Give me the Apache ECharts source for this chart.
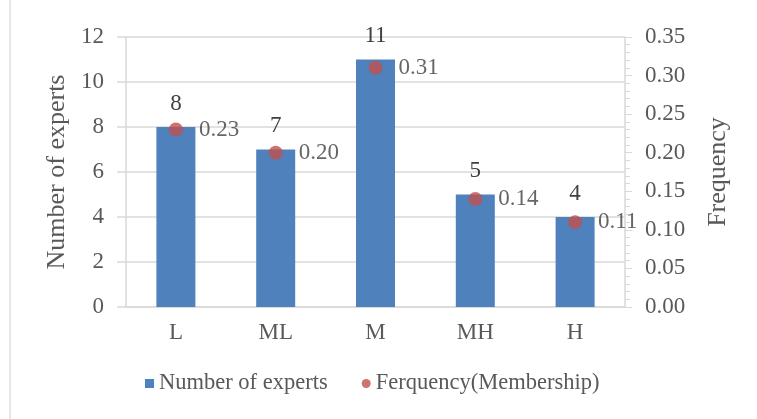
<!DOCTYPE html>
<html>
<head>
<meta charset="utf-8">
<script src="https://cdn.jsdelivr.net/npm/echarts@6/dist/echarts.min.js"></script>
<style>
  html, body { margin: 0; padding: 0; background: #ffffff; }
  #chart { width: 757px; height: 419px; }
</style>
</head>
<body>
<div id="chart"></div>
<script>
// Expert ratings per linguistic level and their membership frequency
const categories = ['L', 'ML', 'M', 'MH', 'H'];
const expertCounts = [8, 7, 11, 5, 4];
const frequencies = [0.23, 0.20, 0.31, 0.14, 0.11];

const FONT = '"Liberation Serif", "Times New Roman", serif';
const TEXT = '#595959';
const LABEL = '#404040';
const LINE = '#D9D9D9';

const chart = echarts.init(document.getElementById('chart'));
chart.setOption({
  animation: false,
  textStyle: { fontFamily: FONT, color: TEXT },
  graphic: [{
    type: 'rect',
    shape: { x: 9, y: 0, width: 2, height: 419 },
    style: { fill: '#E6E6E6' }
  }],
  grid: { left: 126, right: 132, top: 37, bottom: 112 },
  legend: {
    bottom: 19,
    left: 140,
    itemGap: 34,
    itemWidth: 9,
    itemHeight: 9,
    textStyle: { fontFamily: FONT, fontSize: 22.5, color: TEXT },
    data: [
      { name: 'Number of experts', icon: 'rect' },
      { name: 'Ferquency(Membership)', icon: 'circle', itemStyle: { color: '#C0504D' } }
    ]
  },
  xAxis: {
    type: 'category',
    data: categories,
    axisLine: { lineStyle: { color: LINE, width: 1.5 } },
    axisTick: { show: false },
    axisLabel: { fontFamily: FONT, fontSize: 23, color: TEXT, margin: 14 }
  },
  yAxis: [
    {
      type: 'value',
      min: 0, max: 12, interval: 2,
      name: 'Number of experts',
      nameLocation: 'middle',
      nameGap: 51,
      nameTextStyle: { fontFamily: FONT, fontSize: 26, color: TEXT },
      axisLine: { show: true, lineStyle: { color: LINE, width: 1.5 } },
      axisTick: { show: true, length: 9, lineStyle: { color: LINE, width: 1.5 } },
      splitLine: { lineStyle: { color: LINE, width: 1.5 } },
      axisLabel: { fontFamily: FONT, fontSize: 23, color: TEXT, margin: 22 }
    },
    {
      type: 'value',
      min: 0, max: 0.35, interval: 0.05,
      name: 'Frequency',
      nameLocation: 'middle',
      nameGap: 80,
      nameRotate: 90,
      nameTextStyle: { fontFamily: FONT, fontSize: 26, color: TEXT },
      axisLine: { show: true, lineStyle: { color: LINE, width: 1.5 } },
      axisTick: { show: true, length: 7, lineStyle: { color: LINE } },
      minorTick: { show: true, splitNumber: 5, length: 5, lineStyle: { color: LINE } },
      splitLine: { show: false },
      axisLabel: {
        fontFamily: FONT, fontSize: 23, color: TEXT, margin: 20,
        formatter: v => v.toFixed(2)
      }
    }
  ],
  series: [
    {
      name: 'Number of experts',
      type: 'bar',
      yAxisIndex: 0,
      data: expertCounts,
      barWidth: 39,
      itemStyle: { color: '#4F81BD' },
      label: {
        show: true, position: 'top', distance: 12,
        fontFamily: FONT, fontSize: 23, color: LABEL
      }
    },
    {
      name: 'Ferquency(Membership)',
      type: 'scatter',
      yAxisIndex: 1,
      data: frequencies,
      symbol: 'circle',
      symbolSize: 14,
      itemStyle: { color: '#C0504D' },
      label: {
        show: true, position: 'right', distance: 16,
        fontFamily: FONT, fontSize: 23, color: LABEL,
        formatter: p => p.value.toFixed(2)
      }
    }
  ]
});
</script>
</body>
</html>
